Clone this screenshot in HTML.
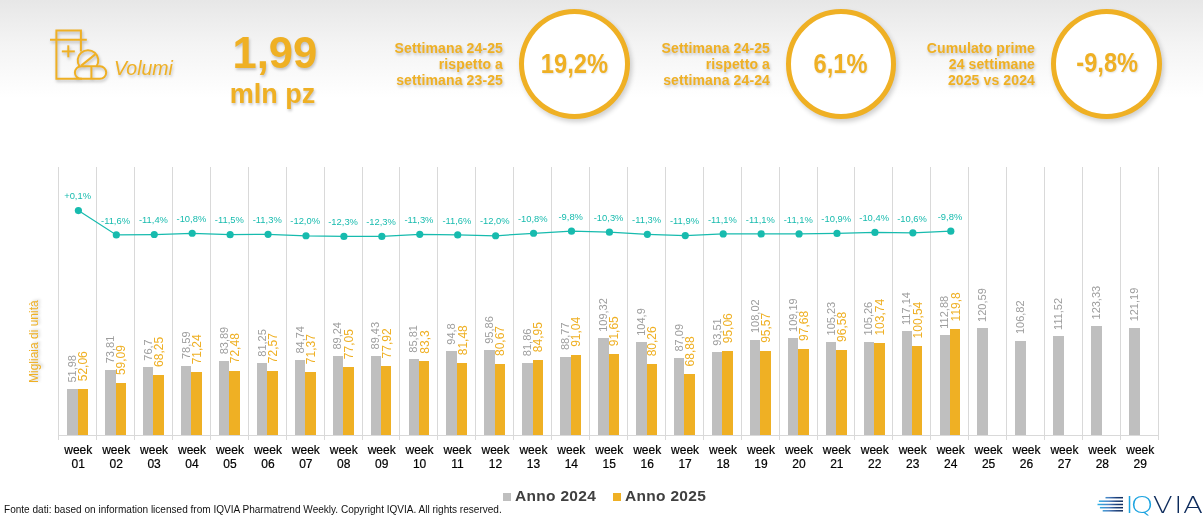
<!DOCTYPE html>
<html><head><meta charset="utf-8">
<style>
*{margin:0;padding:0;box-sizing:border-box}
html,body{width:1203px;height:517px;overflow:hidden;background:#fff}
body{position:relative;font-family:"Liberation Sans",Arial,sans-serif}
#hdr{position:absolute;left:0;top:0;width:1203px;height:130px;background:linear-gradient(to bottom,#e7e7e7 0px,#f4f4f4 45px,#ffffff 98px)}
.sh{text-shadow:1px 2px 3px rgba(0,0,0,0.22)}
.t{position:absolute;color:#EFB024;white-space:nowrap}
#volumi{left:114px;top:57px;font-size:19.5px;font-style:italic}
#big{left:232.5px;top:28.5px;font-size:43.5px;font-weight:bold;line-height:48px}
#mln{left:229.8px;top:79.2px;font-size:27px;font-weight:bold;line-height:30px}
.kt{font-size:14px;letter-spacing:0.12px;font-weight:bold;line-height:15.85px;text-align:right}
.circ{position:absolute;border:5.2px solid #EFB024;border-radius:50%;background:#fff;box-shadow:2px 3px 5px rgba(0,0,0,0.19)}
.cv{position:absolute;left:0;right:0;text-align:center;font-size:28.5px;line-height:32px;text-shadow:1px 1px 2px rgba(0,0,0,0.12);font-weight:bold;color:#EFB024}
.cv span{display:inline-block;transform:scaleX(0.83)}
svg{position:absolute;left:0;top:0}
.bl{font-size:11px}
.bl.g{fill:#9d9d9d}
.bl.y{fill:#EFB024;font-size:12px}
.pl{font-size:9.4px;fill:#17BBAE;text-anchor:middle}
.xl{font-size:12px;fill:#000;stroke:#000;stroke-width:0.2px;text-anchor:middle}
#ylab{position:absolute;left:0;top:0;font-size:12px;color:#EFB024;transform-origin:0 0;white-space:nowrap}
.leg{position:absolute;top:486.5px;font-size:15.5px;letter-spacing:0.3px;font-weight:bold;color:#404040;white-space:nowrap}
.sq{position:absolute;width:7.5px;height:7.5px}
#foot{position:absolute;left:4px;top:504px;font-size:10.05px;color:#111;white-space:nowrap}
</style></head><body>
<div id="hdr"></div>
<svg width="1203" height="130" viewBox="0 0 1203 130" style="filter:drop-shadow(1px 2px 1.5px rgba(0,0,0,0.25))">
<g fill="none" stroke="#EFB024" stroke-width="2" stroke-linecap="butt">
<path d="M80.9,51.5 V30.4 H56.4 V78.8 H82"/>
<line x1="50" y1="39.7" x2="86.8" y2="39.7"/>
<line x1="61.8" y1="51.4" x2="74.8" y2="51.4"/>
<line x1="68.3" y1="45.3" x2="68.3" y2="57.3"/>
<path d="M79.5,66.3 A10.3,10.3 0 1 1 96.5,66.3"/>
<line x1="81.2" y1="65.6" x2="95.2" y2="54.4"/>
<rect x="74.9" y="66.3" width="31.3" height="12.5" rx="6.25"/>
<line x1="91.4" y1="66.3" x2="91.4" y2="78.8"/>
</g>
</svg>
<div class="t sh" id="volumi">Volumi</div>
<div class="t sh" id="big">1,99</div>
<div class="t sh" id="mln">mln pz</div>

<div class="t sh kt" style="right:700px;top:41.1px">Settimana 24-25<br>rispetto a<br>settimana 23-25</div>
<div class="circ" style="left:519px;top:9px;width:111px;height:110px"><div class="cv" style="top:33px"><span>19,2%</span></div></div>

<div class="t sh kt" style="right:433px;top:41.1px">Settimana 24-25<br>rispetto a<br>settimana 24-24</div>
<div class="circ" style="left:786px;top:9px;width:110px;height:110px"><div class="cv" style="top:33px;left:-1px;right:1px"><span>6,1%</span></div></div>

<div class="t sh kt" style="right:168px;top:41.1px">Cumulato prime<br>24 settimane<br>2025 vs 2024</div>
<div class="circ" style="left:1051px;top:8.5px;width:111px;height:110px"><div class="cv" style="top:32.6px;left:0.3px;right:-0.3px"><span>-9,8%</span></div></div>

<svg width="1203" height="517" viewBox="0 0 1203 517" style="font-family:'Liberation Sans',Arial,sans-serif">
<line x1="58.5" y1="167" x2="58.5" y2="440" stroke="#D9D9D9" stroke-width="1"/>
<line x1="96.5" y1="167" x2="96.5" y2="440" stroke="#D9D9D9" stroke-width="1"/>
<line x1="134.5" y1="167" x2="134.5" y2="440" stroke="#D9D9D9" stroke-width="1"/>
<line x1="172.5" y1="167" x2="172.5" y2="440" stroke="#D9D9D9" stroke-width="1"/>
<line x1="210.5" y1="167" x2="210.5" y2="440" stroke="#D9D9D9" stroke-width="1"/>
<line x1="248.5" y1="167" x2="248.5" y2="440" stroke="#D9D9D9" stroke-width="1"/>
<line x1="286.5" y1="167" x2="286.5" y2="440" stroke="#D9D9D9" stroke-width="1"/>
<line x1="324.5" y1="167" x2="324.5" y2="440" stroke="#D9D9D9" stroke-width="1"/>
<line x1="362.5" y1="167" x2="362.5" y2="440" stroke="#D9D9D9" stroke-width="1"/>
<line x1="399.5" y1="167" x2="399.5" y2="440" stroke="#D9D9D9" stroke-width="1"/>
<line x1="437.5" y1="167" x2="437.5" y2="440" stroke="#D9D9D9" stroke-width="1"/>
<line x1="475.5" y1="167" x2="475.5" y2="440" stroke="#D9D9D9" stroke-width="1"/>
<line x1="513.5" y1="167" x2="513.5" y2="440" stroke="#D9D9D9" stroke-width="1"/>
<line x1="551.5" y1="167" x2="551.5" y2="440" stroke="#D9D9D9" stroke-width="1"/>
<line x1="589.5" y1="167" x2="589.5" y2="440" stroke="#D9D9D9" stroke-width="1"/>
<line x1="627.5" y1="167" x2="627.5" y2="440" stroke="#D9D9D9" stroke-width="1"/>
<line x1="665.5" y1="167" x2="665.5" y2="440" stroke="#D9D9D9" stroke-width="1"/>
<line x1="703.5" y1="167" x2="703.5" y2="440" stroke="#D9D9D9" stroke-width="1"/>
<line x1="741.5" y1="167" x2="741.5" y2="440" stroke="#D9D9D9" stroke-width="1"/>
<line x1="779.5" y1="167" x2="779.5" y2="440" stroke="#D9D9D9" stroke-width="1"/>
<line x1="817.5" y1="167" x2="817.5" y2="440" stroke="#D9D9D9" stroke-width="1"/>
<line x1="854.5" y1="167" x2="854.5" y2="440" stroke="#D9D9D9" stroke-width="1"/>
<line x1="892.5" y1="167" x2="892.5" y2="440" stroke="#D9D9D9" stroke-width="1"/>
<line x1="930.5" y1="167" x2="930.5" y2="440" stroke="#D9D9D9" stroke-width="1"/>
<line x1="968.5" y1="167" x2="968.5" y2="440" stroke="#D9D9D9" stroke-width="1"/>
<line x1="1006.5" y1="167" x2="1006.5" y2="440" stroke="#D9D9D9" stroke-width="1"/>
<line x1="1044.5" y1="167" x2="1044.5" y2="440" stroke="#D9D9D9" stroke-width="1"/>
<line x1="1082.5" y1="167" x2="1082.5" y2="440" stroke="#D9D9D9" stroke-width="1"/>
<line x1="1120.5" y1="167" x2="1120.5" y2="440" stroke="#D9D9D9" stroke-width="1"/>
<line x1="1158.5" y1="167" x2="1158.5" y2="440" stroke="#D9D9D9" stroke-width="1"/>
<line x1="58.0" y1="435.5" x2="1159" y2="435.5" stroke="#D9D9D9" stroke-width="1"/>
<rect x="67" y="389" width="11" height="46" fill="#BFBFBF"/>
<rect x="105" y="370" width="11" height="65" fill="#BFBFBF"/>
<rect x="143" y="367" width="10" height="68" fill="#BFBFBF"/>
<rect x="181" y="366" width="10" height="69" fill="#BFBFBF"/>
<rect x="219" y="361" width="10" height="74" fill="#BFBFBF"/>
<rect x="257" y="363" width="10" height="72" fill="#BFBFBF"/>
<rect x="295" y="360" width="10" height="75" fill="#BFBFBF"/>
<rect x="333" y="356" width="10" height="79" fill="#BFBFBF"/>
<rect x="371" y="356" width="10" height="79" fill="#BFBFBF"/>
<rect x="409" y="359" width="10" height="76" fill="#BFBFBF"/>
<rect x="446" y="351" width="11" height="84" fill="#BFBFBF"/>
<rect x="484" y="350" width="11" height="85" fill="#BFBFBF"/>
<rect x="522" y="363" width="11" height="72" fill="#BFBFBF"/>
<rect x="560" y="357" width="11" height="78" fill="#BFBFBF"/>
<rect x="598" y="338" width="11" height="97" fill="#BFBFBF"/>
<rect x="636" y="342" width="11" height="93" fill="#BFBFBF"/>
<rect x="674" y="358" width="10" height="77" fill="#BFBFBF"/>
<rect x="712" y="352" width="10" height="83" fill="#BFBFBF"/>
<rect x="750" y="340" width="10" height="95" fill="#BFBFBF"/>
<rect x="788" y="338" width="10" height="97" fill="#BFBFBF"/>
<rect x="826" y="342" width="10" height="93" fill="#BFBFBF"/>
<rect x="864" y="342" width="10" height="93" fill="#BFBFBF"/>
<rect x="902" y="331" width="10" height="104" fill="#BFBFBF"/>
<rect x="940" y="335" width="10" height="100" fill="#BFBFBF"/>
<rect x="977" y="328" width="11" height="107" fill="#BFBFBF"/>
<rect x="1015" y="341" width="11" height="94" fill="#BFBFBF"/>
<rect x="1053" y="336" width="11" height="99" fill="#BFBFBF"/>
<rect x="1091" y="326" width="11" height="109" fill="#BFBFBF"/>
<rect x="1129" y="328" width="11" height="107" fill="#BFBFBF"/>
<rect x="78" y="389" width="10" height="46" fill="#EFB024"/>
<rect x="116" y="383" width="10" height="52" fill="#EFB024"/>
<rect x="153" y="375" width="11" height="60" fill="#EFB024"/>
<rect x="191" y="372" width="11" height="63" fill="#EFB024"/>
<rect x="229" y="371" width="11" height="64" fill="#EFB024"/>
<rect x="267" y="371" width="11" height="64" fill="#EFB024"/>
<rect x="305" y="372" width="11" height="63" fill="#EFB024"/>
<rect x="343" y="367" width="11" height="68" fill="#EFB024"/>
<rect x="381" y="366" width="10" height="69" fill="#EFB024"/>
<rect x="419" y="361" width="10" height="74" fill="#EFB024"/>
<rect x="457" y="363" width="10" height="72" fill="#EFB024"/>
<rect x="495" y="364" width="10" height="71" fill="#EFB024"/>
<rect x="533" y="360" width="10" height="75" fill="#EFB024"/>
<rect x="571" y="355" width="10" height="80" fill="#EFB024"/>
<rect x="609" y="354" width="10" height="81" fill="#EFB024"/>
<rect x="647" y="364" width="10" height="71" fill="#EFB024"/>
<rect x="684" y="374" width="11" height="61" fill="#EFB024"/>
<rect x="722" y="351" width="11" height="84" fill="#EFB024"/>
<rect x="760" y="351" width="11" height="84" fill="#EFB024"/>
<rect x="798" y="349" width="11" height="86" fill="#EFB024"/>
<rect x="836" y="350" width="11" height="85" fill="#EFB024"/>
<rect x="874" y="343" width="11" height="92" fill="#EFB024"/>
<rect x="912" y="346" width="10" height="89" fill="#EFB024"/>
<rect x="950" y="329" width="10" height="106" fill="#EFB024"/>
<text class="bl g" transform="translate(75.95,382.55) rotate(-90)">51,98</text>
<text class="bl g" transform="translate(113.88,363.25) rotate(-90)">73,81</text>
<text class="bl g" transform="translate(151.81,360.70) rotate(-90)">76,7</text>
<text class="bl g" transform="translate(189.74,359.03) rotate(-90)">78,59</text>
<text class="bl g" transform="translate(227.67,354.34) rotate(-90)">83,89</text>
<text class="bl g" transform="translate(265.60,356.68) rotate(-90)">81,25</text>
<text class="bl g" transform="translate(303.53,353.59) rotate(-90)">84,74</text>
<text class="bl g" transform="translate(341.46,349.61) rotate(-90)">89,24</text>
<text class="bl g" transform="translate(379.39,349.44) rotate(-90)">89,43</text>
<text class="bl g" transform="translate(417.32,352.64) rotate(-90)">85,81</text>
<text class="bl g" transform="translate(455.25,344.70) rotate(-90)">94,8</text>
<text class="bl g" transform="translate(493.18,343.76) rotate(-90)">95,86</text>
<text class="bl g" transform="translate(531.11,356.14) rotate(-90)">81,86</text>
<text class="bl g" transform="translate(569.04,350.03) rotate(-90)">88,77</text>
<text class="bl g" transform="translate(606.97,331.86) rotate(-90)">109,32</text>
<text class="bl g" transform="translate(644.90,335.77) rotate(-90)">104,9</text>
<text class="bl g" transform="translate(682.83,351.51) rotate(-90)">87,09</text>
<text class="bl g" transform="translate(720.76,345.84) rotate(-90)">93,51</text>
<text class="bl g" transform="translate(758.69,333.01) rotate(-90)">108,02</text>
<text class="bl g" transform="translate(796.62,331.98) rotate(-90)">109,19</text>
<text class="bl g" transform="translate(834.55,335.48) rotate(-90)">105,23</text>
<text class="bl g" transform="translate(872.48,335.45) rotate(-90)">105,26</text>
<text class="bl g" transform="translate(910.41,324.95) rotate(-90)">117,14</text>
<text class="bl g" transform="translate(948.34,328.71) rotate(-90)">112,88</text>
<text class="bl g" transform="translate(986.27,321.90) rotate(-90)">120,59</text>
<text class="bl g" transform="translate(1024.20,334.07) rotate(-90)">106,82</text>
<text class="bl g" transform="translate(1062.13,329.92) rotate(-90)">111,52</text>
<text class="bl g" transform="translate(1100.06,319.48) rotate(-90)">123,33</text>
<text class="bl g" transform="translate(1137.99,321.37) rotate(-90)">121,19</text>
<text class="bl y" transform="translate(87.25,381.28) rotate(-90)">52,06</text>
<text class="bl y" transform="translate(125.18,375.06) rotate(-90)">59,09</text>
<text class="bl y" transform="translate(163.11,366.97) rotate(-90)">68,25</text>
<text class="bl y" transform="translate(201.04,364.32) rotate(-90)">71,24</text>
<text class="bl y" transform="translate(238.97,363.23) rotate(-90)">72,48</text>
<text class="bl y" transform="translate(276.90,363.15) rotate(-90)">72,57</text>
<text class="bl y" transform="translate(314.83,364.21) rotate(-90)">71,37</text>
<text class="bl y" transform="translate(352.76,359.19) rotate(-90)">77,05</text>
<text class="bl y" transform="translate(390.69,358.42) rotate(-90)">77,92</text>
<text class="bl y" transform="translate(428.62,353.66) rotate(-90)">83,3</text>
<text class="bl y" transform="translate(466.55,355.27) rotate(-90)">81,48</text>
<text class="bl y" transform="translate(504.48,355.99) rotate(-90)">80,67</text>
<text class="bl y" transform="translate(542.41,352.20) rotate(-90)">84,95</text>
<text class="bl y" transform="translate(580.34,346.82) rotate(-90)">91,04</text>
<text class="bl y" transform="translate(618.27,346.28) rotate(-90)">91,65</text>
<text class="bl y" transform="translate(656.20,356.35) rotate(-90)">80,26</text>
<text class="bl y" transform="translate(694.13,366.41) rotate(-90)">68,88</text>
<text class="bl y" transform="translate(732.06,343.27) rotate(-90)">95,06</text>
<text class="bl y" transform="translate(769.99,342.82) rotate(-90)">95,57</text>
<text class="bl y" transform="translate(807.92,340.95) rotate(-90)">97,68</text>
<text class="bl y" transform="translate(845.85,341.92) rotate(-90)">96,58</text>
<text class="bl y" transform="translate(883.78,335.59) rotate(-90)">103,74</text>
<text class="bl y" transform="translate(921.71,338.42) rotate(-90)">100,54</text>
<text class="bl y" transform="translate(959.64,321.40) rotate(-90)">119,8</text>
<polyline points="78.40,210.59 116.33,234.93 154.26,234.51 192.19,233.26 230.12,234.72 268.05,234.30 305.98,235.76 343.91,236.38 381.84,236.38 419.77,234.30 457.70,234.93 495.63,235.76 533.56,233.26 571.49,231.18 609.42,232.22 647.35,234.30 685.28,235.55 723.21,233.89 761.14,233.89 799.07,233.89 837.00,233.47 874.93,232.43 912.86,232.85 950.79,231.18" fill="none" stroke="#17BBAE" stroke-width="1.25"/>
<circle cx="78.40" cy="210.59" r="3.6" fill="#17BBAE"/>
<text class="pl" x="77.60" y="199.29">+0,1%</text>
<circle cx="116.33" cy="234.93" r="3.6" fill="#17BBAE"/>
<text class="pl" x="115.53" y="223.63">-11,6%</text>
<circle cx="154.26" cy="234.51" r="3.6" fill="#17BBAE"/>
<text class="pl" x="153.46" y="223.21">-11,4%</text>
<circle cx="192.19" cy="233.26" r="3.6" fill="#17BBAE"/>
<text class="pl" x="191.39" y="221.96">-10,8%</text>
<circle cx="230.12" cy="234.72" r="3.6" fill="#17BBAE"/>
<text class="pl" x="229.32" y="223.42">-11,5%</text>
<circle cx="268.05" cy="234.30" r="3.6" fill="#17BBAE"/>
<text class="pl" x="267.25" y="223.00">-11,3%</text>
<circle cx="305.98" cy="235.76" r="3.6" fill="#17BBAE"/>
<text class="pl" x="305.18" y="224.46">-12,0%</text>
<circle cx="343.91" cy="236.38" r="3.6" fill="#17BBAE"/>
<text class="pl" x="343.11" y="225.08">-12,3%</text>
<circle cx="381.84" cy="236.38" r="3.6" fill="#17BBAE"/>
<text class="pl" x="381.04" y="225.08">-12,3%</text>
<circle cx="419.77" cy="234.30" r="3.6" fill="#17BBAE"/>
<text class="pl" x="418.97" y="223.00">-11,3%</text>
<circle cx="457.70" cy="234.93" r="3.6" fill="#17BBAE"/>
<text class="pl" x="456.90" y="223.63">-11,6%</text>
<circle cx="495.63" cy="235.76" r="3.6" fill="#17BBAE"/>
<text class="pl" x="494.83" y="224.46">-12,0%</text>
<circle cx="533.56" cy="233.26" r="3.6" fill="#17BBAE"/>
<text class="pl" x="532.76" y="221.96">-10,8%</text>
<circle cx="571.49" cy="231.18" r="3.6" fill="#17BBAE"/>
<text class="pl" x="570.69" y="219.88">-9,8%</text>
<circle cx="609.42" cy="232.22" r="3.6" fill="#17BBAE"/>
<text class="pl" x="608.62" y="220.92">-10,3%</text>
<circle cx="647.35" cy="234.30" r="3.6" fill="#17BBAE"/>
<text class="pl" x="646.55" y="223.00">-11,3%</text>
<circle cx="685.28" cy="235.55" r="3.6" fill="#17BBAE"/>
<text class="pl" x="684.48" y="224.25">-11,9%</text>
<circle cx="723.21" cy="233.89" r="3.6" fill="#17BBAE"/>
<text class="pl" x="722.41" y="222.59">-11,1%</text>
<circle cx="761.14" cy="233.89" r="3.6" fill="#17BBAE"/>
<text class="pl" x="760.34" y="222.59">-11,1%</text>
<circle cx="799.07" cy="233.89" r="3.6" fill="#17BBAE"/>
<text class="pl" x="798.27" y="222.59">-11,1%</text>
<circle cx="837.00" cy="233.47" r="3.6" fill="#17BBAE"/>
<text class="pl" x="836.20" y="222.17">-10,9%</text>
<circle cx="874.93" cy="232.43" r="3.6" fill="#17BBAE"/>
<text class="pl" x="874.13" y="221.13">-10,4%</text>
<circle cx="912.86" cy="232.85" r="3.6" fill="#17BBAE"/>
<text class="pl" x="912.06" y="221.55">-10,6%</text>
<circle cx="950.79" cy="231.18" r="3.6" fill="#17BBAE"/>
<text class="pl" x="949.99" y="219.88">-9,8%</text>
<text class="xl" x="78.25" y="453.6">week</text><text class="xl" x="78.25" y="467.6">01</text>
<text class="xl" x="116.18" y="453.6">week</text><text class="xl" x="116.18" y="467.6">02</text>
<text class="xl" x="154.11" y="453.6">week</text><text class="xl" x="154.11" y="467.6">03</text>
<text class="xl" x="192.04" y="453.6">week</text><text class="xl" x="192.04" y="467.6">04</text>
<text class="xl" x="229.97" y="453.6">week</text><text class="xl" x="229.97" y="467.6">05</text>
<text class="xl" x="267.90" y="453.6">week</text><text class="xl" x="267.90" y="467.6">06</text>
<text class="xl" x="305.83" y="453.6">week</text><text class="xl" x="305.83" y="467.6">07</text>
<text class="xl" x="343.76" y="453.6">week</text><text class="xl" x="343.76" y="467.6">08</text>
<text class="xl" x="381.69" y="453.6">week</text><text class="xl" x="381.69" y="467.6">09</text>
<text class="xl" x="419.62" y="453.6">week</text><text class="xl" x="419.62" y="467.6">10</text>
<text class="xl" x="457.55" y="453.6">week</text><text class="xl" x="457.55" y="467.6">11</text>
<text class="xl" x="495.48" y="453.6">week</text><text class="xl" x="495.48" y="467.6">12</text>
<text class="xl" x="533.41" y="453.6">week</text><text class="xl" x="533.41" y="467.6">13</text>
<text class="xl" x="571.34" y="453.6">week</text><text class="xl" x="571.34" y="467.6">14</text>
<text class="xl" x="609.27" y="453.6">week</text><text class="xl" x="609.27" y="467.6">15</text>
<text class="xl" x="647.20" y="453.6">week</text><text class="xl" x="647.20" y="467.6">16</text>
<text class="xl" x="685.13" y="453.6">week</text><text class="xl" x="685.13" y="467.6">17</text>
<text class="xl" x="723.06" y="453.6">week</text><text class="xl" x="723.06" y="467.6">18</text>
<text class="xl" x="760.99" y="453.6">week</text><text class="xl" x="760.99" y="467.6">19</text>
<text class="xl" x="798.92" y="453.6">week</text><text class="xl" x="798.92" y="467.6">20</text>
<text class="xl" x="836.85" y="453.6">week</text><text class="xl" x="836.85" y="467.6">21</text>
<text class="xl" x="874.78" y="453.6">week</text><text class="xl" x="874.78" y="467.6">22</text>
<text class="xl" x="912.71" y="453.6">week</text><text class="xl" x="912.71" y="467.6">23</text>
<text class="xl" x="950.64" y="453.6">week</text><text class="xl" x="950.64" y="467.6">24</text>
<text class="xl" x="988.57" y="453.6">week</text><text class="xl" x="988.57" y="467.6">25</text>
<text class="xl" x="1026.50" y="453.6">week</text><text class="xl" x="1026.50" y="467.6">26</text>
<text class="xl" x="1064.43" y="453.6">week</text><text class="xl" x="1064.43" y="467.6">27</text>
<text class="xl" x="1102.36" y="453.6">week</text><text class="xl" x="1102.36" y="467.6">28</text>
<text class="xl" x="1140.29" y="453.6">week</text><text class="xl" x="1140.29" y="467.6">29</text>
</svg>
<div id="ylab" class="sh" style="transform:translate(26.8px,383px) rotate(-90deg)">Migliaia di unità</div>

<div class="sq" style="left:503px;top:493px;background:#BFBFBF"></div>
<div class="leg" style="left:515px">Anno 2024</div>
<div class="sq" style="left:613px;top:493px;background:#EFB024"></div>
<div class="leg" style="left:625px">Anno 2025</div>
<div id="foot">Fonte dati: based on information licensed from IQVIA Pharmatrend Weekly. Copyright IQVIA. All rights reserved.</div>

<svg width="110" height="26" viewBox="0 0 110 26" style="left:1093px;top:491px">
<defs><linearGradient id="lg" gradientUnits="userSpaceOnUse" x1="4" x2="30" y1="0" y2="0"><stop offset="0" stop-color="#29B5EA"/><stop offset="0.45" stop-color="#4a7fc0"/><stop offset="0.75" stop-color="#1c3f7a"/><stop offset="1" stop-color="#0C2A5B"/></linearGradient></defs>
<g stroke="url(#lg)" stroke-width="1.5">
<line x1="12.5" y1="6.7" x2="30" y2="6.7"/>
<line x1="5.9" y1="10.2" x2="30" y2="10.2"/>
<line x1="4.5" y1="13.5" x2="30" y2="13.5"/>
<line x1="6.9" y1="16.7" x2="30" y2="16.7"/>
<line x1="9.7" y1="19.8" x2="30" y2="19.8"/>
</g>
<g font-family="DejaVu Sans" font-weight="200" font-size="22.5">
<text transform="matrix(1.3,0,0,1,32.3,21.6)" fill="#1BA3E0">I</text>
<text transform="matrix(1.3,0,0,1,37.5,21.6)" fill="#1BA3E0">Q</text>
<text transform="matrix(1.3,0,0,1,59.8,21.6)" fill="#0C2A5B">V</text>
<text transform="matrix(1.3,0,0,1,80.9,21.6)" fill="#0C2A5B">I</text>
<text transform="matrix(1.3,0,0,1,90.1,21.6)" fill="#0C2A5B">A</text>
</g>
</svg>
</body></html>
